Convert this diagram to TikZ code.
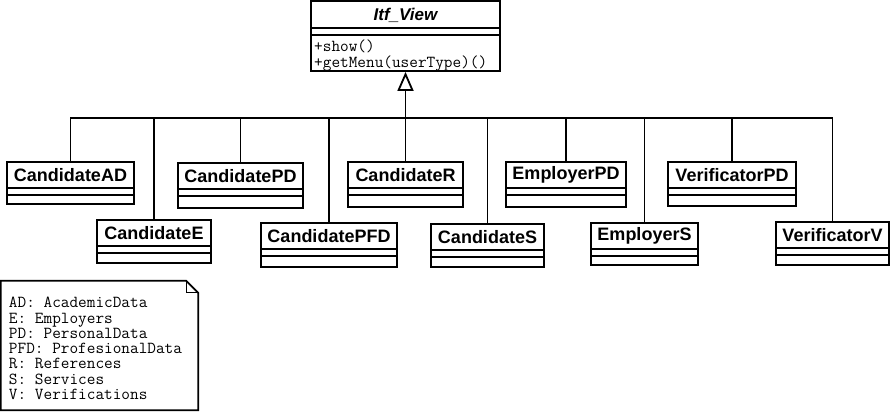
\documentclass[tikz,border=0pt]{standalone}
\usepackage{fontspec}
\setmainfont{Liberation Sans}
\usetikzlibrary{arrows.meta,calc}
\tikzset{
  ln/.style={line width=1.8pt},
  clsbox/.style={draw, line width=1.8pt, inner sep=0pt, fill=white},
  clsname/.style={font=\bfseries\fontsize{18}{20}\selectfont, inner sep=0pt},
  mono/.style={font=\ttfamily\fontsize{16.8}{15.3}\selectfont, inner sep=0pt},
  gen/.style={ln, -{Triangle[open, length=19pt, width=16pt]}}
}
\newcommand\umlcls[6]{%
  \node[clsbox, minimum width={(#4-#2)*1pt}, minimum height={(#5-#3)*1pt}] (#1) at ({(#2+#4)/2},{(#3+#5)/2}) {};
  \node[clsname] (#1-t) at ($(#1.north)+(0,14)$) {#6};
  \draw[ln] ($(#1.north west)+(0,27)$) -- ($(#1.north east)+(0,27)$);
  \draw[ln] ($(#1.north west)+(0,34)$) -- ($(#1.north east)+(0,34)$);
}
\begin{document}
\begin{tikzpicture}[x=1pt,y=-1pt]
\useasboundingbox (0,0) rectangle (893,413);
% interface
\node[clsbox, minimum width=189pt, minimum height=70pt] (view) at (405.5,36) {};
\node[font=\bfseries\itshape\fontsize{17}{20}\selectfont, inner sep=0pt] (viewt) at (405.5,15.5) {Itf\_View};
\draw[ln] ($(view.north west)+(0,28)$) -- ($(view.north east)+(0,28)$);
\draw[ln] ($(view.north west)+(0,35)$) -- ($(view.north east)+(0,35)$);
\node[mono, anchor=west, align=left] (ops) at (314,55.5) {+show()\\+getMenu(userType)()};
% classes
\umlcls{cAD}{7}{162}{134}{204}{CandidateAD}
\umlcls{cE}{97}{220}{211}{263}{CandidateE}
\umlcls{cPD}{178}{163}{303}{208}{CandidatePD}
\umlcls{cPFD}{261}{223}{397}{267}{CandidatePFD}
\umlcls{cR}{348}{162}{463}{207}{CandidateR}
\umlcls{cS}{431}{224}{544}{267}{CandidateS}
\umlcls{ePD}{506}{162}{626}{207}{EmployerPD}
\umlcls{eS}{591}{223}{698}{265}{EmployerS}
\umlcls{vPD}{668}{162}{796}{206}{VerificatorPD}
\umlcls{vV}{776}{222}{889}{265}{VerificatorV}
% generalization
\coordinate (j) at (405.5,118);
\draw[gen] (j) -- (view.south);
\foreach \c in {cAD,cE,cPD,cPFD,cR,cS,ePD,eS,vPD,vV}
  \draw[ln] (\c.north) |- (j);
% note
\node[minimum width=197pt, minimum height=129pt, inner sep=0pt] (note) at (99.5,345.5) {};
\node[mono, align=left, anchor=west] (notetxt) at ($(note.west)+(8,3)$) {AD: AcademicData\\E: Employers\\PD: PersonalData\\PFD: ProfesionalData\\R: References\\S: Services\\V: Verifications};
\draw[ln] (note.north west) -- ($(note.north east)+(-12,0)$) -- ($(note.north east)+(0,12)$) -- (note.south east) -- (note.south west) -- cycle;
\draw[ln, line width=1pt] ($(note.north east)+(-12,0)$) |- ($(note.north east)+(0,12)$);
\end{tikzpicture}
\end{document}
